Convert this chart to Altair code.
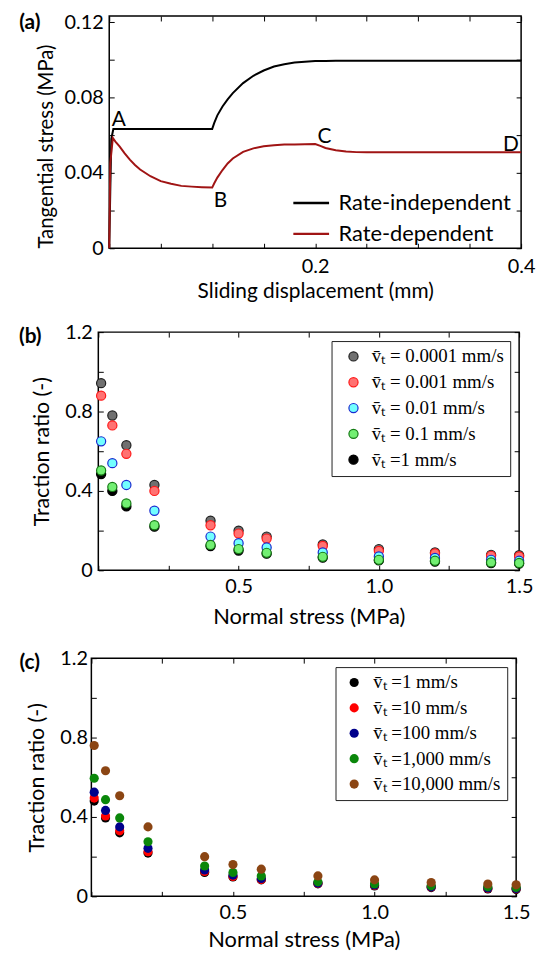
import altair as alt
import pandas as pd

FONT = "Lato"
SERIF = "Liberation Serif"

# ---------------- panel (a) data ----------------
series_a = ["Rate-independent", "Rate-dependent"]
colors_a = ["#000000", "#a01414"]

disp_indep = [0.0, 0.001, 0.002, 0.004, 0.1, 0.102, 0.105, 0.11, 0.115, 0.12, 0.13, 0.14,
              0.15, 0.16, 0.17, 0.18, 0.19, 0.2, 0.21, 0.22, 0.25, 0.3, 0.35, 0.4]
stress_indep = [0.0, 0.030, 0.058, 0.0633, 0.0633, 0.0665, 0.0705, 0.0752, 0.0790, 0.0823, 0.0876, 0.0915,
                0.0943, 0.0964, 0.0976, 0.0985, 0.0990, 0.0993, 0.0994, 0.0995, 0.0995, 0.0995, 0.0995, 0.0995]

disp_dep = [0.0, 0.001, 0.0035, 0.006, 0.01, 0.015, 0.02, 0.025, 0.03, 0.04, 0.05, 0.06, 0.07, 0.08,
            0.09, 0.1, 0.102, 0.105, 0.11, 0.115, 0.12, 0.13, 0.14, 0.15, 0.16, 0.17, 0.18, 0.19, 0.2,
            0.205, 0.21, 0.22, 0.23, 0.24, 0.25, 0.3, 0.35, 0.4]
stress_dep = [0.0, 0.045, 0.0585, 0.0566, 0.0540, 0.0503, 0.0470, 0.0442, 0.0418, 0.0382, 0.0356, 0.0342,
              0.0331, 0.0327, 0.0324, 0.0322, 0.0345, 0.0375, 0.0415, 0.0450, 0.0476, 0.0511, 0.0530,
              0.0541, 0.0546, 0.0550, 0.0551, 0.0552, 0.0553, 0.0543, 0.0532, 0.0520, 0.0513, 0.0510,
              0.0509, 0.0509, 0.0509, 0.0509]

point_names = ["A", "B", "C", "D"]
point_x = [0.0092, 0.108, 0.209, 0.390]
point_y = [0.0682, 0.0249, 0.0592, 0.0548]

xticks_a = [0.0, 0.05, 0.1, 0.15, 0.2, 0.25, 0.3, 0.35, 0.4]
xlabels_a = [0.2, 0.4]
yticks_a = [0.0, 0.02, 0.04, 0.06, 0.08, 0.1, 0.12]
ylabels_a = [0.0, 0.04, 0.08, 0.12]

# ---------------- panels (b), (c) data ----------------
normal_stress = [0.01, 0.05, 0.1, 0.2, 0.4, 0.5, 0.6, 0.8, 1.0, 1.2, 1.4, 1.5]

speeds_b = ["v\u0304\u209c = 0.0001 mm/s", "v\u0304\u209c = 0.001 mm/s", "v\u0304\u209c = 0.01 mm/s",
            "v\u0304\u209c = 0.1 mm/s", "v\u0304\u209c =1 mm/s"]
fills_b = ["#707070", "#ff7272", "#72ffff", "#72ef72", "#000000"]
strokes_b = ["#202020", "#ff1a1a", "#1a2ad0", "#157a15", "#000000"]
ratio_b_00001 = [0.943, 0.78, 0.63, 0.43, 0.25, 0.20, 0.17, 0.13, 0.107, 0.09, 0.078, 0.076]
ratio_b_0001 = [0.88, 0.73, 0.587, 0.40, 0.227, 0.185, 0.16, 0.123, 0.098, 0.085, 0.073, 0.07]
ratio_b_001 = [0.65, 0.54, 0.43, 0.30, 0.17, 0.137, 0.115, 0.09, 0.07, 0.062, 0.053, 0.048]
ratio_b_01 = [0.503, 0.42, 0.337, 0.227, 0.128, 0.107, 0.088, 0.068, 0.053, 0.048, 0.04, 0.037]
ratio_b_1 = [0.485, 0.40, 0.322, 0.22, 0.122, 0.10, 0.084, 0.064, 0.05, 0.044, 0.037, 0.034]

speeds_c = ["v\u0304\u209c =1 mm/s", "v\u0304\u209c =10 mm/s", "v\u0304\u209c =100 mm/s",
            "v\u0304\u209c =1,000 mm/s", "v\u0304\u209c =10,000 mm/s"]
colors_c = ["#000000", "#ff0000", "#00008b", "#0a870a", "#8b4513"]
ratio_c_1 = [0.48, 0.395, 0.32, 0.218, 0.12, 0.098, 0.083, 0.063, 0.052, 0.044, 0.037, 0.034]
ratio_c_10 = [0.495, 0.405, 0.33, 0.225, 0.125, 0.10, 0.085, 0.065, 0.055, 0.047, 0.04, 0.038]
ratio_c_100 = [0.525, 0.433, 0.35, 0.242, 0.133, 0.107, 0.09, 0.067, 0.057, 0.048, 0.042, 0.04]
ratio_c_1000 = [0.595, 0.487, 0.395, 0.275, 0.153, 0.12, 0.103, 0.073, 0.062, 0.053, 0.048, 0.045]
ratio_c_10000 = [0.76, 0.633, 0.507, 0.35, 0.20, 0.16, 0.137, 0.103, 0.083, 0.07, 0.062, 0.058]

xticks_bc = [0.0, 0.25, 0.5, 0.75, 1.0, 1.25, 1.5]
xlabels_bc = [0.5, 1.0, 1.5]
yticks_bc = [0.0, 0.2, 0.4, 0.6, 0.8, 1.0, 1.2]
ylabels_bc = [0.0, 0.4, 0.8, 1.2]


def label_expr(labelled, fmt):
    vals = ",".join("'%s'" % format(v, ".4f") for v in labelled)
    return ("indexof([%s], format(datum.value, '.4f')) >= 0 ? "
            "(datum.value == 0 ? '0' : format(datum.value, '%s')) : ''" % (vals, fmt))


def main_x_axis(ticks, labelled, fmt, title, lpad, tpad, tsize):
    return alt.Axis(orient="bottom", values=ticks, labelExpr=label_expr(labelled, fmt), title=title,
                    offset=-5, tickSize=5, domain=False, grid=False, labelPadding=lpad,
                    titlePadding=tpad, labelFlush=False, labelOverlap=False, labelFont=FONT,
                    labelFontSize=20, labelColor="black", titleFont=FONT, titleFontSize=tsize,
                    titleFontWeight="normal", titleColor="black", tickColor="black",
                    minExtent=0)


def main_y_axis(ticks, labelled, fmt, title, lpad, tpad, tsize, **kw):
    return alt.Axis(orient="left", values=ticks, labelExpr=label_expr(labelled, fmt), title=title,
                    offset=-5, tickSize=5, domain=False, grid=False, labelPadding=lpad,
                    titlePadding=tpad, labelFlush=False, labelOverlap=False, labelFont=FONT,
                    labelFontSize=20, labelColor="black", titleFont=FONT, titleFontSize=tsize,
                    titleFontWeight="normal", titleColor="black", tickColor="black",
                    minExtent=0, **kw)


def mirror_layer(df, xf, yf, xs, ys, xt, yt):
    return alt.Chart(df).mark_point(opacity=0).encode(
        x=alt.X(xf, type="quantitative", scale=xs,
                axis=alt.Axis(orient="top", values=xt, labels=False, title=None, offset=-5,
                              tickSize=5, domain=False, grid=False, tickColor="black",
                              minExtent=0, maxExtent=0)),
        y=alt.Y(yf, type="quantitative", scale=ys,
                axis=alt.Axis(orient="right", values=yt, labels=False, title=None, offset=-5,
                              tickSize=5, domain=False, grid=False, tickColor="black",
                              minExtent=0, maxExtent=0)),
    )


def tag_layer(text, dx, dy):
    return alt.Chart(alt.Data(values=[{"t": text}])).mark_text(
        align="left", baseline="top", font=FONT, fontSize=21, fontWeight="bold", color="black"
    ).encode(text="t:N", x=alt.value(dx), y=alt.value(dy))


# ---------------- build panel (a) ----------------
df_indep = pd.DataFrame({"disp": disp_indep, "stress": stress_indep, "model": series_a[0]})
df_dep = pd.DataFrame({"disp": disp_dep, "stress": stress_dep, "model": series_a[1]})
df_pts = pd.DataFrame({"disp": point_x, "stress": point_y, "name": point_names})

xs_a = alt.Scale(domain=[0, 0.4], nice=False, zero=False)
ys_a = alt.Scale(domain=[0, 0.1232], nice=False, zero=False)
color_a = alt.Color("model:N", scale=alt.Scale(domain=series_a, range=colors_a), sort=series_a,
                    legend=alt.Legend(orient="none", legendX=184, legendY=169, title=None,
                                      symbolType="stroke", symbolSize=1296, symbolStrokeWidth=2.5,
                                      labelFont=FONT, labelFontSize=22, labelColor="black",
                                      labelOffset=8, rowPadding=-12, padding=0, labelLimit=400))

line_indep = alt.Chart(df_indep).mark_line(strokeWidth=2).encode(
    x=alt.X("disp:Q", scale=xs_a,
            axis=main_x_axis(xticks_a, xlabels_a, ".1f", "Sliding displacement (mm)", 8, 5, 21)),
    y=alt.Y("stress:Q", scale=ys_a,
            axis=main_y_axis(yticks_a, ylabels_a, ".2f", "Tangential stress (MPa)", 6, 8, 20.5,
                             titleY=131)),
    color=color_a,
)
line_dep = alt.Chart(df_dep).mark_line(strokeWidth=2).encode(
    x=alt.X("disp:Q", scale=xs_a, axis=None),
    y=alt.Y("stress:Q", scale=ys_a, axis=None),
    color=color_a,
)
pt_text = alt.Chart(df_pts).mark_text(font=FONT, fontSize=21, color="black").encode(
    x=alt.X("disp:Q", scale=xs_a, axis=None),
    y=alt.Y("stress:Q", scale=ys_a, axis=None),
    text="name:N",
)
panel_a = alt.layer(
    line_indep, line_dep, pt_text,
    mirror_layer(df_indep, "disp", "stress", xs_a, ys_a, xticks_a, yticks_a),
    tag_layer("(a)", -90.7, -4),
).resolve_axis(x="independent", y="independent").properties(width=415, height=234)


# ---------------- build panels (b), (c) ----------------
def scatter_panel(key, speeds, series, draw_order, fill_rng, stroke_rng, stroke_w, legend_kw,
                  width, tag, tag_dx, lpad, tpad, ylpad, ytpad):
    fld = "speed_" + key
    rows = []
    for idx in draw_order:
        for s, r in zip(normal_stress, series[idx]):
            rows.append({"stress": s, "ratio": r, fld: speeds[idx]})
    df = pd.DataFrame(rows)
    xs = alt.Scale(domain=[0, 1.5], nice=False, zero=False)
    ys = alt.Scale(domain=[0, 1.2], nice=False, zero=False)
    legend = alt.Legend(orient="top-right", offset=9, title=None, labelFont=SERIF, labelFontSize=19,
                        labelColor="black", strokeColor="#222222", fillColor="white", padding=6,
                        symbolSize=85, symbolStrokeWidth=stroke_w, labelLimit=400, **legend_kw)
    enc = dict(
        x=alt.X("stress:Q", scale=xs,
                axis=main_x_axis(xticks_bc, xlabels_bc, ".1f", "Normal stress (MPa)", lpad, tpad, 22)),
        y=alt.Y("ratio:Q", scale=ys,
                axis=main_y_axis(yticks_bc, ylabels_bc, ".1f", "Traction ratio (-)", ylpad, ytpad, 21.5)),
        fill=alt.Fill(fld + ":N", scale=alt.Scale(domain=speeds, range=fill_rng), sort=speeds,
                      legend=legend),
        stroke=alt.Stroke(fld + ":N", scale=alt.Scale(domain=speeds, range=stroke_rng), sort=speeds,
                          legend=legend),
    )
    pts = alt.Chart(df).mark_circle(size=85, opacity=1, strokeWidth=stroke_w).encode(**enc)
    return alt.layer(
        pts,
        mirror_layer(df, "stress", "ratio", xs, ys, xticks_bc, yticks_bc),
        tag_layer(tag, tag_dx, -6),
    ).resolve_axis(x="independent", y="independent").properties(width=width, height=240)


panel_b = scatter_panel(
    "b", speeds_b, [ratio_b_00001, ratio_b_0001, ratio_b_001, ratio_b_01, ratio_b_1], [4, 0, 1, 2, 3],
    fills_b, strokes_b, 1.2, dict(symbolOffset=6.6, labelOffset=9, rowPadding=6),
    424, "(b)", -80, 6, 11, 6, 11)

panel_c = scatter_panel(
    "c", speeds_c, [ratio_c_1, ratio_c_10, ratio_c_100, ratio_c_1000, ratio_c_10000], [0, 1, 2, 3, 4],
    colors_c, colors_c, 0, dict(symbolOffset=3.3, labelOffset=9.6, rowPadding=5.6),
    428, "(c)", -72.5, 6, 8, 4, 11)


def spacer():
    return alt.Chart(alt.Data(values=[{"s": 0}])).mark_point(opacity=0, size=1).properties(
        width=8, height=8, view=alt.ViewBackground(stroke="transparent", fill="transparent"))


def wrap(p):
    return alt.hconcat(spacer(), p, spacing=0).resolve_scale(
        color="independent", fill="independent", stroke="independent"
    ).resolve_legend(color="independent", fill="independent", stroke="independent")


chart = alt.vconcat(wrap(panel_a), wrap(panel_b), wrap(panel_c), spacing=18.5).resolve_scale(
    color="independent", fill="independent", stroke="independent"
).resolve_legend(
    color="independent", fill="independent", stroke="independent"
).properties(
    padding={"left": 0, "top": -0.5, "right": 0, "bottom": -2},
    background="white",
).configure_view(stroke="black", strokeWidth=1.5)

chart.save("out.html", embed_options={"renderer": "svg", "actions": False})
